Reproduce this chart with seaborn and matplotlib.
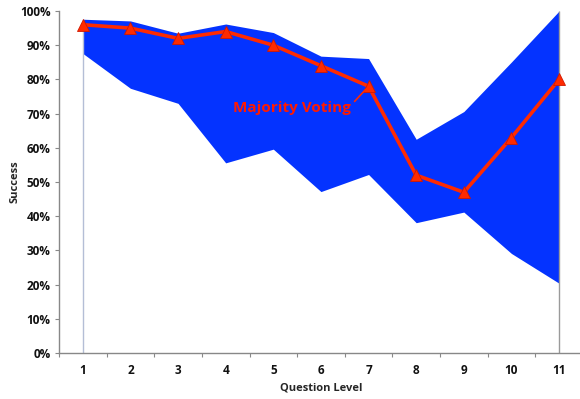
import numpy as np
import pandas as pd
import matplotlib
matplotlib.use("Agg")
import matplotlib.pyplot as plt
from matplotlib.ticker import FixedLocator, PercentFormatter
import seaborn as sns

levels = [1, 2, 3, 4, 5, 6, 7, 8, 9, 10, 11]
upper = [97.6, 97.1, 93.5, 96.2, 93.7, 86.8, 86.1, 62.5, 70.6, 85.1, 100.0]
lower = [87.6, 77.4, 73.0, 55.6, 59.6, 47.2, 52.2, 38.1, 41.2, 29.1, 20.4]
majority = [96, 95, 92, 94, 90, 84, 78, 52, 47, 63, 80]
y_ticks = [0, 10, 20, 30, 40, 50, 60, 70, 80, 90, 100]

df = pd.DataFrame({"level": levels, "upper": upper, "lower": lower, "majority": majority})

sns.set_theme(style="white")
plt.rcParams["font.family"] = ["Open Sans", "DejaVu Sans"]

fig = plt.figure(figsize=(5.8, 3.99), dpi=100)
ax = fig.add_axes([0.1017, 0.1153, 0.9033, 0.8571])

blue = "#0433FF"
red = "#FF2A00"

ax.fill_between(df["level"], df["lower"], df["upper"], color=blue, linewidth=0, zorder=1)
ax.vlines(df["level"].iloc[0], 0, df["upper"].iloc[0], color="#B4BED6", linewidth=1, zorder=1.5)
ax.vlines(df["level"].iloc[-1], 0, df["upper"].iloc[-1], color="#9A9A9A", linewidth=1, zorder=1.5)

sns.lineplot(data=df, x="level", y="majority", ax=ax, color=red, linewidth=2.6,
             marker="^", markersize=8, markerfacecolor=red, markeredgecolor="#D01800",
             markeredgewidth=0.6, zorder=3)

ax.annotate("Majority Voting", xy=(df["level"].iloc[6], df["majority"].iloc[6]),
            xytext=(5.4, 71.5), color="#FF1A00", fontsize=11, fontweight="bold",
            ha="center", va="center",
            arrowprops=dict(arrowstyle="-", color=red, lw=1.2, shrinkA=0, shrinkB=3,
                            relpos=(1.0, 0.75)))

ax.set_xlim(0.5, 11.5)
ax.set_ylim(0, 100)
ax.set_xticks(levels)
ax.set_xticklabels([str(v) for v in levels])
ax.xaxis.set_minor_locator(FixedLocator(np.arange(0.5, 12, 1.0)))
ax.set_yticks(y_ticks)
ax.yaxis.set_major_formatter(PercentFormatter(decimals=0))

ax.tick_params(axis="x", which="major", length=0, pad=8, labelsize=8.5, colors="#111111")
ax.tick_params(axis="x", which="minor", bottom=True, length=3, width=0.8, color="#888888", direction="out")
ax.tick_params(axis="y", which="major", left=True, length=3, width=0.8, color="#888888",
               direction="out", labelsize=8.5, colors="#111111", pad=3)
for lab in ax.get_xticklabels() + ax.get_yticklabels():
    lab.set_fontweight("bold")

for side in ["top", "right"]:
    ax.spines[side].set_visible(False)
for side in ["left", "bottom"]:
    ax.spines[side].set_color("#888888")
    ax.spines[side].set_linewidth(1.0)

ax.set_xlabel("Question Level", fontsize=8, fontweight="bold", labelpad=4)
ax.set_ylabel("Success", fontsize=8, fontweight="bold")
ax.yaxis.set_label_coords(-0.074, 0.5)

fig.savefig("out.png", dpi=100)
